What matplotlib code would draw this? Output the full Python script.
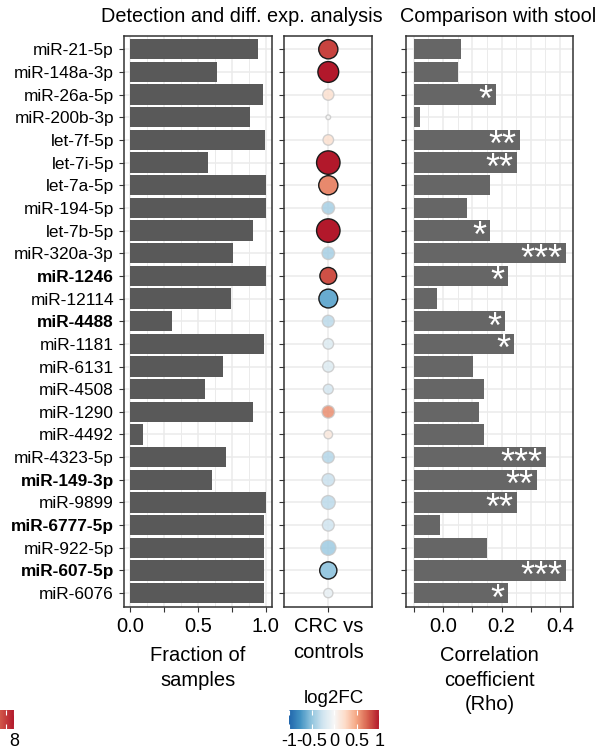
import numpy as np
import matplotlib.pyplot as plt
from matplotlib import transforms
from matplotlib.colors import LinearSegmentedColormap, Normalize
from matplotlib.cm import ScalarMappable

plt.rcParams['font.family'] = ['Liberation Sans', 'DejaVu Sans']
plt.rcParams['axes.unicode_minus'] = False

mirnas = ['miR-21-5p', 'miR-148a-3p', 'miR-26a-5p', 'miR-200b-3p', 'let-7f-5p',
          'let-7i-5p', 'let-7a-5p', 'miR-194-5p', 'let-7b-5p', 'miR-320a-3p',
          'miR-1246', 'miR-12114', 'miR-4488', 'miR-1181', 'miR-6131',
          'miR-4508', 'miR-1290', 'miR-4492', 'miR-4323-5p', 'miR-149-3p',
          'miR-9899', 'miR-6777-5p', 'miR-922-5p', 'miR-607-5p', 'miR-6076']
bold_mirnas = ['miR-1246', 'miR-4488', 'miR-149-3p', 'miR-6777-5p', 'miR-607-5p']

# detection in plasma
fraction_detected = [0.944, 0.642, 0.981, 0.885, 0.996, 0.575, 1.0, 1.0, 0.907, 0.760,
                     1.0, 0.745, 0.310, 0.988, 0.686, 0.553, 0.907, 0.096, 0.708, 0.605,
                     1.0, 0.988, 0.988, 0.988, 0.988]

# CRC vs controls
log2fc = [0.85, 1.0, 0.2, 0.0, 0.2, 1.0, 0.6, -0.42, 1.0, -0.42,
          0.8, -0.63, -0.33, -0.17, -0.17, -0.22, 0.58, 0.14, -0.36, -0.28,
          -0.33, -0.25, -0.45, -0.47, -0.1]
neg_log10_p = [5.8, 6.3, 3.4, 1.4, 3.2, 7.1, 5.8, 3.8, 7.1, 3.8,
               5.1, 5.7, 3.6, 3.2, 3.4, 3.0, 3.8, 2.6, 3.6, 3.8,
               4.2, 3.6, 4.6, 5.2, 2.8]
significant = [True, True, False, False, False, True, True, False, True, False,
               True, True, False, False, False, False, False, False, False, False,
               False, False, False, True, False]

# correlation with stool
rho = [0.061, 0.051, 0.181, -0.079, 0.263, 0.253, 0.160, 0.082, 0.160, 0.420,
       0.222, -0.020, 0.212, 0.242, 0.102, 0.140, 0.123, 0.140, 0.351, 0.321,
       0.253, -0.010, 0.150, 0.420, 0.222]
stars = ['', '', '*', '', '**', '**', '', '', '*', '***',
         '*', '', '*', '*', '', '', '', '', '***', '**',
         '**', '', '', '***', '*']

cmap = LinearSegmentedColormap.from_list('rdbu', ['#2166AC', '#4393C3', '#92C5DE', '#D1E5F0', '#F7F7F7',
                                                  '#FDDBC7', '#F4A582', '#D6604D', '#B2182B'])
norm = Normalize(-1, 1)

W, H = 599, 752


def box(x0, y0, x1, y1):
    return [x0 / W, 1 - y1 / H, (x1 - x0) / W, (y1 - y0) / H]


def style(ax):
    ax.set_ylim(len(mirnas) - 0.4, -0.6)
    ax.set_axisbelow(True)
    for s in ax.spines.values():
        s.set_color('#333333')
        s.set_linewidth(1.1)
    ax.tick_params(color='#333333', length=3.5, width=0.8, labelcolor='black')
    ax.tick_params(axis='x', labelsize=14.5, pad=4)
    ax.tick_params(which='minor', length=0)
    ax.grid(True, which='major', color='#EBEBEB', lw=1.1)
    ax.grid(True, which='minor', axis='x', color='#EBEBEB', lw=0.7)


fig = plt.figure(figsize=(5.99, 7.52), dpi=100)
ax1 = fig.add_axes(box(123.7, 35.7, 272.3, 606.7))
ax2 = fig.add_axes(box(284.3, 35.7, 372.3, 606.7))
ax3 = fig.add_axes(box(406.3, 35.7, 573.3, 606.7))
y = np.arange(len(mirnas))

# panel 1: fraction of samples
ax1.barh(y, fraction_detected, height=0.9, color='#595959')
ax1.set_xlim(-0.05, 1.05)
ax1.set_xticks([0, 0.25, 0.5, 0.75, 1.0])
ax1.set_xticklabels(['0.0', '', '0.5', '', '1.0'])
ax1.set_xticks(np.arange(0.125, 1, 0.25), minor=True)
ax1.set_yticks(y)
ax1.set_yticklabels(mirnas, fontsize=12.4)
for lbl in ax1.get_yticklabels():
    if lbl.get_text() in bold_mirnas:
        lbl.set_fontweight('bold')
style(ax1)
ax1.set_xlabel('Fraction of\nsamples', fontsize=14.5, labelpad=7, linespacing=1.38)

# panel 2: log2FC dots
face = cmap(norm(np.array(log2fc)))
face[~np.array(significant), 3] = 0.85
edge = [(0.1, 0.1, 0.1, 1.0) if sig else (0.78, 0.78, 0.78, 0.8) for sig in significant]
sizes = (3.3 * np.array(neg_log10_p) * 0.72) ** 2
ax2.scatter(np.ones(len(mirnas)), y, s=sizes, c=face, edgecolors=edge, linewidths=1, zorder=3)
ax2.set_xlim(0.4, 1.6)
ax2.set_xticks([1])
ax2.set_xticklabels(['CRC vs\ncontrols'], linespacing=1.45)
ax2.set_yticks(y)
ax2.tick_params(axis='y', length=0, labelleft=False)
style(ax2)

# panel 3: correlation with stool
base = -0.1
ax3.barh(y, np.array(rho) - base, left=base, height=0.9, color='#666666')
ax3.set_xlim(-0.125, 0.445)
ax3.set_xticks([-0.1, 0, 0.1, 0.2, 0.3, 0.4])
ax3.set_xticklabels(['', '0.0', '', '0.2', '', '0.4'])
ax3.set_xticks(np.arange(-0.05, 0.45, 0.1), minor=True)
ax3.set_yticks(y)
ax3.tick_params(axis='y', length=0, labelleft=False)
style(ax3)
ax3.set_xlabel('Correlation\ncoefficient\n(Rho)', fontsize=14.5, labelpad=7, linespacing=1.38)
star_tr = transforms.offset_copy(ax3.transData, fig=fig, y=-11.8, units='points')
for yi, r, s in zip(y, rho, stars):
    if s:
        ax3.text(r - 0.012, yi, s, color='white', fontsize=26,
                 ha='right', va='baseline', transform=star_tr)

fig.text(242 / W, 1 - 17 / H, 'Detection and diff. exp. analysis', ha='center', va='center', fontsize=14.3)
fig.text(498 / W, 1 - 17 / H, 'Comparison with stool', ha='center', va='center', fontsize=14.3)

# log2FC colour bar
cax = fig.add_axes(box(289, 710, 379.3, 729.3))
cb = fig.colorbar(ScalarMappable(norm=norm, cmap=cmap), cax=cax, orientation='horizontal',
                  ticks=[-1, -0.5, 0, 0.5, 1])
cb.outline.set_visible(False)
cb.set_ticklabels(['-1', '-0.5', '0', '0.5', '1'])
cax.xaxis.set_ticks_position('both')
cax.tick_params(direction='in', color='white', length=3.5, width=0.8, labelsize=13, pad=3,
                labeltop=False, labelbottom=True)
cax.set_title('log2FC', fontsize=13.5, pad=5)

# cut-off colour bar from neighbouring panel
cax2 = fig.add_axes(box(-114, 710, 14, 729.3))
cb2 = fig.colorbar(ScalarMappable(norm=Normalize(-8, 8), cmap=cmap), cax=cax2,
                   orientation='horizontal', ticks=[7, 8])
cb2.outline.set_visible(False)
cb2.set_ticklabels(['', '8'])
cax2.xaxis.set_ticks_position('both')
cax2.tick_params(direction='in', color='white', length=3.5, width=0.8, labelsize=13, pad=3,
                 labeltop=False, labelbottom=True)

fig.savefig('out.png', dpi=100)
